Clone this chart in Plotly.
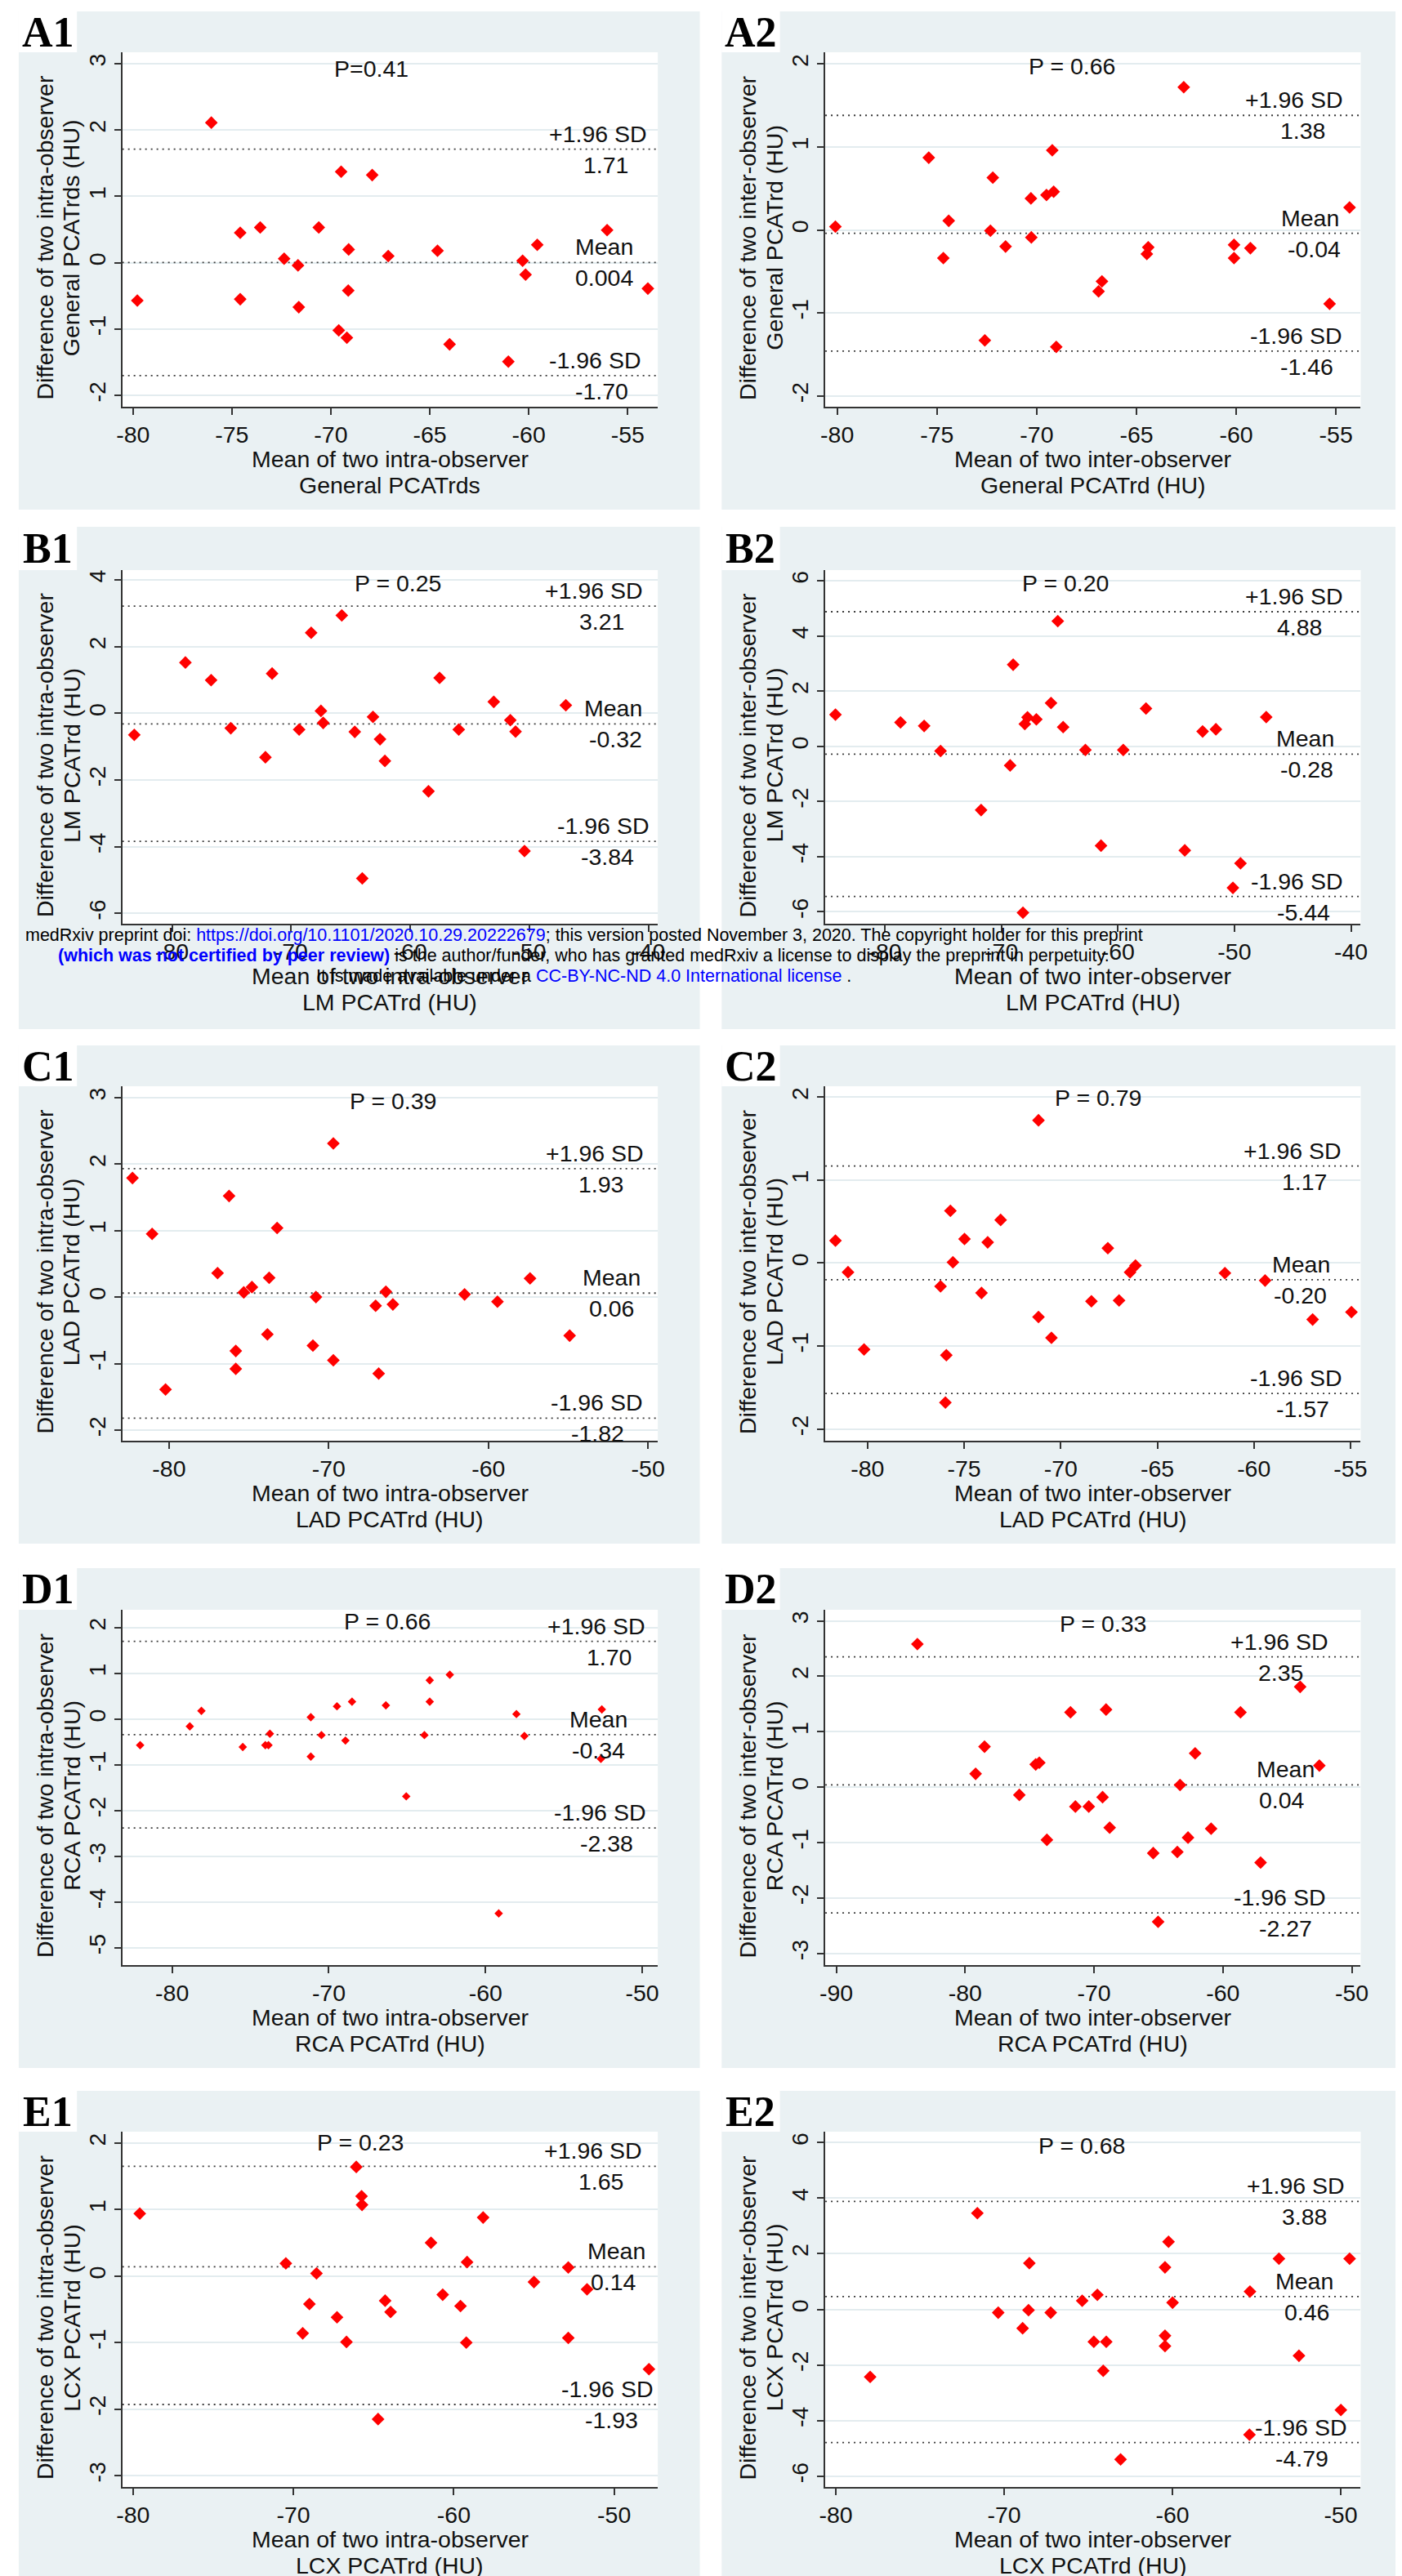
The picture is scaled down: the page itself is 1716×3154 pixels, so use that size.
import plotly.graph_objects as go

# ---------------------------------------------------------------- data
A1_x = [-79.78, -76.04, -74.58, -74.58, -73.57, -72.36, -71.66, -71.62, -70.61, -69.48, -69.60, -69.10,
        -69.12, -69.19, -67.91, -67.10, -64.61, -64.00, -61.03, -60.31, -60.16, -59.57, -56.04, -53.98]
A1_y = [-0.57, 2.11, 0.45, -0.55, 0.53, 0.06, -0.04, -0.67, 0.53, 1.37, -1.02, 0.20,
        -0.42, -1.13, 1.32, 0.10, 0.18, -1.23, -1.49, 0.03, -0.18, 0.27, 0.49, -0.39]
A1_limits = [1.71, 0.004, -1.70]
A1_limit_text = ["1.71", "0.004", "-1.70"]

A2_x = [-80.09, -75.41, -74.41, -74.68, -72.20, -72.32, -72.60, -71.56, -70.29, -70.27, -69.51, -69.15,
        -69.22, -69.02, -66.90, -66.73, -64.41, -64.48, -62.63, -60.11, -60.11, -59.29, -55.32, -54.32]
A2_y = [0.04, 0.87, 0.11, -0.34, 0.63, -0.01, -1.33, -0.20, 0.38, -0.09, 0.42, 0.46,
        0.96, -1.41, -0.74, -0.62, -0.21, -0.29, 1.72, -0.18, -0.34, -0.22, -0.89, 0.27]
A2_limits = [1.38, -0.04, -1.46]
A2_limit_text = ["1.38", "-0.04", "-1.46"]

B1_x = [-83.17, -78.88, -76.72, -75.07, -72.16, -71.60, -69.33, -68.32, -67.50, -67.31, -65.75, -64.66,
        -64.03, -63.13, -62.54, -62.13, -58.47, -57.54, -55.93, -52.99, -51.60, -51.16, -50.41, -46.94]
B1_y = [-0.65, 1.52, 0.99, -0.45, -1.32, 1.19, -0.49, 2.41, 0.07, -0.29, 2.93, -0.56,
        -4.95, -0.11, -0.78, -1.43, -2.34, 1.06, -0.49, 0.34, -0.21, -0.55, -4.13, 0.24]
B1_limits = [3.21, -0.32, -3.84]
B1_limit_text = ["3.21", "-0.32", "-3.84"]

B2_x = [-84.24, -78.66, -76.63, -75.22, -71.74, -69.25, -68.99, -68.15, -67.99, -67.76, -67.00, -65.74,
        -65.16, -64.70, -62.79, -61.45, -59.54, -57.59, -54.26, -52.73, -51.59, -50.13, -49.48, -47.27]
B2_y = [1.15, 0.87, 0.74, -0.17, -2.31, -0.69, 2.96, -6.03, 0.81, 1.05, 0.98, 1.57,
        4.54, 0.70, -0.13, -3.60, -0.13, 1.37, -3.77, 0.54, 0.62, -5.13, -4.24, 1.06]
B2_limits = [4.88, -0.28, -5.44]
B2_limit_text = ["4.88", "-0.28", "-5.44"]

C1_x = [-82.29, -81.06, -80.22, -76.96, -76.24, -75.82, -75.82, -75.32, -74.81, -73.84, -73.73, -73.23,
        -70.99, -70.80, -69.71, -69.71, -67.06, -66.87, -66.42, -65.98, -61.49, -59.43, -57.39, -54.91]
C1_y = [1.79, 0.95, -1.39, 0.36, 1.52, -0.81, -1.08, 0.07, 0.15, -0.56, 0.29, 1.04,
        -0.73, 0.00, 2.31, -0.95, -0.13, -1.15, 0.08, -0.11, 0.04, -0.07, 0.28, -0.58]
C1_limits = [1.93, 0.06, -1.82]
C1_limit_text = ["1.93", "0.06", "-1.82"]

C2_x = [-81.66, -81.01, -80.18, -76.22, -75.92, -75.97, -75.71, -75.58, -74.98, -74.10, -73.78, -73.11,
        -71.15, -71.15, -70.48, -68.41, -67.56, -66.98, -66.41, -66.13, -61.50, -59.42, -56.96, -54.95]
C2_y = [0.27, -0.11, -1.04, -0.28, -1.11, -1.68, 0.63, 0.01, 0.29, -0.36, 0.25, 0.52,
        1.72, -0.65, -0.90, -0.46, 0.18, -0.45, -0.11, -0.03, -0.12, -0.21, -0.68, -0.59]
C2_limits = [1.17, -0.20, -1.57]
C2_limit_text = ["1.17", "-0.20", "-1.57"]

D1_x = [-82.04, -78.87, -78.13, -75.49, -74.05, -73.85, -73.76, -71.15, -71.15, -70.47, -69.48, -68.94,
        -68.52, -66.36, -65.06, -63.90, -63.56, -63.56, -62.28, -59.16, -58.03, -57.52, -52.58, -52.64]
D1_y = [-0.57, -0.16, 0.18, -0.61, -0.57, -0.57, -0.32, 0.04, -0.82, -0.35, 0.28, -0.47,
        0.38, 0.30, -1.69, -0.35, 0.85, 0.38, 0.97, -4.25, 0.11, -0.37, 0.21, -0.87]
D1_limits = [1.70, -0.34, -2.38]
D1_limit_text = ["1.70", "-0.34", "-2.38"]

D2_x = [-83.71, -79.19, -78.50, -75.80, -74.53, -74.25, -73.66, -71.83, -71.45, -70.41, -69.34, -69.07,
        -68.79, -65.41, -65.03, -63.54, -63.33, -62.71, -62.16, -60.92, -58.64, -57.08, -54.01, -52.52]
D2_y = [2.58, 0.24, 0.73, -0.14, 0.41, 0.44, -0.95, 1.35, -0.35, -0.35, -0.18, 1.40,
        -0.73, -1.19, -2.43, -1.17, 0.04, -0.91, 0.61, -0.75, 1.35, -1.36, 1.81, 0.39]
D2_limits = [2.35, 0.04, -2.27]
D2_limit_text = ["2.35", "0.04", "-2.27"]

E1_x = [-79.58, -70.47, -69.42, -69.00, -68.56, -67.28, -66.69, -66.08, -65.75, -65.72, -64.72, -64.28,
        -63.94, -61.42, -60.69, -59.58, -59.22, -59.17, -58.17, -55.00, -52.86, -52.86, -51.69, -47.83]
E1_y = [0.94, 0.19, -0.86, -0.42, 0.04, -0.62, -0.99, 1.64, 1.20, 1.07, -2.15, -0.37,
        -0.54, 0.50, -0.28, -0.45, -1.00, 0.21, 0.88, -0.09, 0.13, -0.93, -0.20, -1.40]
E1_limits = [1.65, 0.14, -1.93]
E1_limit_text = ["1.65", "0.14", "-1.93"]

E2_x = [-77.96, -71.59, -70.35, -68.90, -68.55, -68.50, -67.23, -65.36, -64.67, -64.46, -64.11, -63.93,
        -63.08, -60.44, -60.44, -60.44, -60.23, -59.99, -55.42, -55.39, -53.67, -52.48, -49.99, -49.47]
E2_y = [-2.43, 3.46, -0.12, -0.68, -0.03, 1.66, -0.12, 0.31, -1.17, 0.52, -2.21, -1.17,
        -5.40, -0.95, -1.32, 1.51, 2.43, 0.24, -4.51, 0.64, 1.82, -1.67, -3.62, 1.82]
E2_limits = [3.88, 0.46, -4.79]
E2_limit_text = ["3.88", "0.46", "-4.79"]

limit_names = ["+1.96 SD", "Mean", "-1.96 SD"]
panel_names = ["A1", "A2", "B1", "B2", "C1", "C2", "D1", "D2", "E1", "E2"]
p_texts = ["P=0.41", "P = 0.66", "P = 0.25", "P = 0.20", "P = 0.39",
           "P = 0.79", "P = 0.66", "P = 0.33", "P = 0.23", "P = 0.68"]

# tick values
x_ticks = {
    "A1": [-80, -75, -70, -65, -60, -55], "A2": [-80, -75, -70, -65, -60, -55],
    "B1": [-80, -70, -60, -50, -40], "B2": [-80, -70, -60, -50, -40],
    "C1": [-80, -70, -60, -50], "C2": [-80, -75, -70, -65, -60, -55],
    "D1": [-80, -70, -60, -50], "D2": [-90, -80, -70, -60, -50],
    "E1": [-80, -70, -60, -50], "E2": [-80, -70, -60, -50],
}
y_ticks = {
    "A1": [-2, -1, 0, 1, 2, 3], "A2": [-2, -1, 0, 1, 2],
    "B1": [-6, -4, -2, 0, 2, 4], "B2": [-6, -4, -2, 0, 2, 4, 6],
    "C1": [-2, -1, 0, 1, 2, 3], "C2": [-2, -1, 0, 1, 2],
    "D1": [-5, -4, -3, -2, -1, 0, 1, 2], "D2": [-3, -2, -1, 0, 1, 2, 3],
    "E1": [-3, -2, -1, 0, 1, 2], "E2": [-6, -4, -2, 0, 2, 4, 6],
}

x_titles = {
    "A1": ["Mean of two intra-observer", "General PCATrds"],
    "A2": ["Mean of two inter-observer", "General PCATrd (HU)"],
    "B1": ["Mean of two intra-observer", "LM PCATrd (HU)"],
    "B2": ["Mean of two inter-observer", "LM PCATrd (HU)"],
    "C1": ["Mean of two intra-observer", "LAD PCATrd (HU)"],
    "C2": ["Mean of two inter-observer", "LAD PCATrd (HU)"],
    "D1": ["Mean of two intra-observer", "RCA PCATrd (HU)"],
    "D2": ["Mean of two inter-observer", "RCA PCATrd (HU)"],
    "E1": ["Mean of two intra-observer", "LCX PCATrd (HU)"],
    "E2": ["Mean of two inter-observer", "LCX PCATrd (HU)"],
}
y_titles = {
    "A1": ["Difference of two intra-observer", "General PCATrds (HU)"],
    "A2": ["Difference of two inter-observer", "General PCATrd (HU)"],
    "B1": ["Difference of two intra-observer", "LM PCATrd (HU)"],
    "B2": ["Difference of two inter-observer", "LM PCATrd (HU)"],
    "C1": ["Difference of two intra-observer", "LAD PCATrd (HU)"],
    "C2": ["Difference of two inter-observer", "LAD PCATrd (HU)"],
    "D1": ["Difference of two intra-observer", "RCA PCATrd (HU)"],
    "D2": ["Difference of two inter-observer", "RCA PCATrd (HU)"],
    "E1": ["Difference of two intra-observer", "LCX PCATrd (HU)"],
    "E2": ["Difference of two inter-observer", "LCX PCATrd (HU)"],
}

data_x = [A1_x, A2_x, B1_x, B2_x, C1_x, C2_x, D1_x, D2_x, E1_x, E2_x]
data_y = [A1_y, A2_y, B1_y, B2_y, C1_y, C2_y, D1_y, D2_y, E1_y, E2_y]
limits = [A1_limits, A2_limits, B1_limits, B2_limits, C1_limits,
          C2_limits, D1_limits, D2_limits, E1_limits, E2_limits]
limit_texts = [A1_limit_text, A2_limit_text, B1_limit_text, B2_limit_text, C1_limit_text,
               C2_limit_text, D1_limit_text, D2_limit_text, E1_limit_text, E2_limit_text]

# ---------------------------------------------------------------- layout / style
W, H = 1716, 3154
SANS = "Liberation Sans, Arial, sans-serif"
SERIF = "Liberation Serif, Times New Roman, serif"
FS = 28.5
PANEL_BG = "#EAF1F3"
GRID = "#E3ECEF"
AXIS = "#333333"
REF = "#3a3a3a"

COL_X = [(136, 798), (1005, 1667)]
ROW_Y = [(56, 490), (690, 1123), (1322, 1756), (1963, 2398), (2602, 3037)]
PANEL_X = [(8, 850), (877, 1712)]
PANEL_Y = [(6, 616), (637, 1252), (1272, 1882), (1912, 2524), (2552, 3154)]
LABEL_W = 72

x_ranges = {
    "A1": [-80.54, -53.48], "A2": [-80.60, -53.76], "B1": [-84.18, -39.22], "B2": [-85.12, -39.16],
    "C1": [-82.93, -49.39], "C2": [-82.19, -54.47], "D1": [-83.18, -49.01], "D2": [-90.86, -49.31],
    "E1": [-80.67, -47.28], "E2": [-80.63, -48.81],
}
y_ranges = {
    "A1": [-2.17, 3.17], "A2": [-2.13, 2.14], "B1": [-6.31, 4.29], "B2": [-6.43, 6.39],
    "C1": [-2.16, 3.17], "C2": [-2.14, 2.13], "D1": [-5.38, 2.39], "D2": [-3.21, 3.20],
    "E1": [-3.17, 2.17], "E2": [-6.39, 6.39],
}
p_pos = {
    "A1": (0.465, 0.954), "A2": (0.46, 0.961), "B1": (0.515, 0.963), "B2": (0.449, 0.963),
    "C1": (0.505, 0.959), "C2": (0.51, 0.968), "D1": (0.495, 0.968), "D2": (0.518, 0.962),
    "E1": (0.444, 0.970), "E2": (0.479, 0.960),
}
# x centre (domain fraction) of: upper name, upper value, mean name, mean value, lower name, lower value
lab_pos = {
    "A1": (0.889, 0.903, 0.900, 0.900, 0.882, 0.895),
    "A2": (0.876, 0.892, 0.906, 0.913, 0.878, 0.900),
    "B1": (0.881, 0.896, 0.917, 0.921, 0.898, 0.906),
    "B2": (0.875, 0.886, 0.896, 0.900, 0.880, 0.893),
    "C1": (0.882, 0.894, 0.913, 0.913, 0.885, 0.888),
    "C2": (0.873, 0.894, 0.889, 0.887, 0.879, 0.891),
    "D1": (0.885, 0.909, 0.890, 0.890, 0.891, 0.905),
    "D2": (0.848, 0.850, 0.859, 0.853, 0.848, 0.859),
    "E1": (0.879, 0.894, 0.923, 0.918, 0.906, 0.913),
    "E2": (0.878, 0.894, 0.894, 0.899, 0.888, 0.890),
}
marker_size = {k: 12 for k in panel_names}
marker_size["D1"] = 8


def px(x):
    return x / W


def py(y):
    return 1 - y / H


fig = go.Figure()
shapes = []
annotations = []
axes = {}
txt_font = dict(family=SANS, size=FS, color="#111")

# panel backgrounds + label boxes
for r in range(5):
    for c in range(2):
        (a, b), (t, btm) = PANEL_X[c], PANEL_Y[r]
        shapes.append(dict(type="rect", xref="paper", yref="paper", x0=px(a), x1=px(b),
                           y0=py(btm), y1=py(t), fillcolor=PANEL_BG, line=dict(width=0), layer="below"))
        shapes.append(dict(type="rect", xref="paper", yref="paper", x0=px(a), x1=px(a + LABEL_W),
                           y0=py(ROW_Y[r][0]), y1=py(t), fillcolor="white", line=dict(width=0), layer="below"))

for i, name in enumerate(panel_names):
    n = i + 1
    r, c = divmod(i, 2)
    x0, x1 = COL_X[c]
    y0, y1 = ROW_Y[r]
    sfx = "" if n == 1 else str(n)
    xr, yr = "x" + sfx, "y" + sfx

    # reference lines (mean and limits of agreement), spanning the axis range
    for v in limits[i]:
        fig.add_trace(go.Scatter(
            x=x_ranges[name], y=[v, v], mode="lines", xaxis=xr, yaxis=yr, showlegend=False,
            hoverinfo="skip", line=dict(color=REF, width=1.8, dash="2px,5px")))

    fig.add_trace(go.Scatter(
        x=data_x[i], y=data_y[i], mode="markers", xaxis=xr, yaxis=yr, showlegend=False,
        marker=dict(symbol="diamond", color="#FF0000", size=marker_size[name], line=dict(width=0)),
        cliponaxis=False))

    axes["xaxis" + sfx] = dict(
        domain=[px(x0), px(x1)], anchor=yr, range=x_ranges[name],
        tickmode="array", tickvals=x_ticks[name], ticktext=[str(v) for v in x_ticks[name]],
        showgrid=False, zeroline=False, showline=True, linecolor=AXIS, linewidth=1.5,
        ticks="outside", ticklen=8, tickwidth=1.5, tickcolor=AXIS,
        tickfont=txt_font, fixedrange=True)
    axes["yaxis" + sfx] = dict(
        domain=[py(y1), py(y0)], anchor=xr, range=y_ranges[name],
        tickmode="array", tickvals=y_ticks[name], ticktext=[str(v) for v in y_ticks[name]],
        tickangle=-90, showgrid=True, gridcolor=GRID, gridwidth=2,
        zeroline=False, showline=True, linecolor=AXIS, linewidth=1.5,
        ticks="outside", ticklen=8, tickwidth=1.5, tickcolor=AXIS,
        tickfont=txt_font, fixedrange=True)

    # white plot region
    shapes.append(dict(type="rect", xref=xr + " domain", yref=yr + " domain", x0=0, x1=1, y0=0, y1=1,
                       fillcolor="white", line=dict(width=0), layer="below"))

    lp = lab_pos[name]
    for k in range(3):
        annotations.append(dict(text=limit_names[k], xref=xr + " domain", yref=yr, x=lp[2 * k],
                                y=limits[i][k], yshift=19, showarrow=False, xanchor="center",
                                yanchor="middle", font=txt_font))
        annotations.append(dict(text=limit_texts[i][k], xref=xr + " domain", yref=yr, x=lp[2 * k + 1],
                                y=limits[i][k], yshift=-19, showarrow=False, xanchor="center",
                                yanchor="middle", font=txt_font))

    # P value
    annotations.append(dict(text=p_texts[i], xref=xr + " domain", yref=yr + " domain",
                            x=p_pos[name][0], y=p_pos[name][1], showarrow=False,
                            xanchor="center", yanchor="middle", font=txt_font))

    # axis titles
    xc = (x0 + x1) / 2
    for k, off in enumerate((64, 96)):
        annotations.append(dict(text=x_titles[name][k], xref="paper", yref="paper", x=px(xc),
                                y=py(y1 + off), showarrow=False, xanchor="center", yanchor="middle",
                                font=txt_font))
    yc = (y0 + y1) / 2 + 10
    for k, off in enumerate((96, 63)):
        annotations.append(dict(text=y_titles[name][k], xref="paper", yref="paper", x=px(x0 - off),
                                y=py(yc), textangle=-90, showarrow=False, xanchor="center",
                                yanchor="middle", font=txt_font))

    # panel label
    pa = PANEL_X[c][0]
    pt = PANEL_Y[r][0]
    annotations.append(dict(text="<b>%s</b>" % name, xref="paper", yref="paper",
                            x=px(pa + LABEL_W / 2), y=py((pt + y0) / 2), showarrow=False,
                            xanchor="center", yanchor="middle",
                            font=dict(family=SERIF, size=52, color="black")))

# medRxiv watermark
WM = 21.5
annotations += [
    dict(text="medRxiv preprint doi: <span style='color:#0000FF'>https://doi.org/10.1101/2020.10.29.20222679</span>"
              "; this version posted November 3, 2020. The copyright holder for this preprint",
         xref="paper", yref="paper", x=px(707), y=py(1137), showarrow=False, xanchor="center",
         yanchor="middle", font=dict(family=SANS, size=WM, color="black")),
    dict(text="<span style='color:#0000FF'><b>(which was not certified by peer review)</b></span>"
              " is the author/funder, who has granted medRxiv a license to display the preprint in perpetuity.",
         xref="paper", yref="paper", x=px(707), y=py(1162), showarrow=False, xanchor="center",
         yanchor="middle", font=dict(family=SANS, size=WM, color="black")),
    dict(text="It is made available under a <span style='color:#0000FF'>CC-BY-NC-ND 4.0 International license</span> .",
         xref="paper", yref="paper", x=px(707), y=py(1187), showarrow=False, xanchor="center",
         yanchor="middle", font=dict(family=SANS, size=WM, color="black")),
]

fig.update_layout(
    width=W, height=H, margin=dict(l=0, r=0, t=0, b=0),
    paper_bgcolor="white", plot_bgcolor="white",
    shapes=shapes, annotations=annotations, showlegend=False, **axes)

fig.write_html("out.html")
